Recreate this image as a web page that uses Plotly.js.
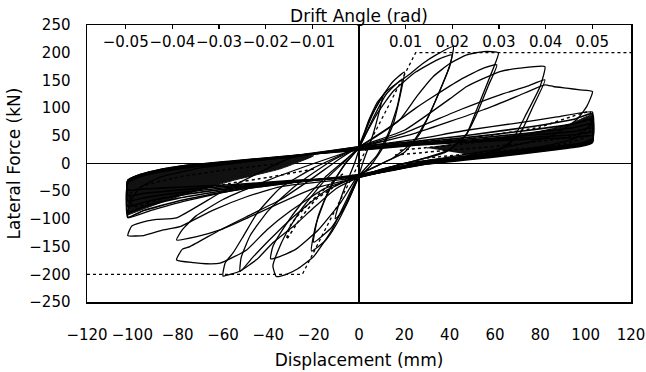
<!DOCTYPE html>
<html>
<head>
<meta charset="utf-8">
<script src="https://cdn.plot.ly/plotly-3.0.1.min.js"></script>
<style>html,body{margin:0;padding:0;background:#fff;}#chart{width:646px;height:372px;}</style>
</head>
<body>
<div id="chart"></div>
<script>
// ---- Data (displacement mm, lateral force kN) ----
var c10x = [0, 4, 8, 10.5, 9, 6, 2, 0, -4, -8, -10.5, -9, -6, -2, 0];
var c10y = [25, 75, 110, 122, 95, 50, 5, -20, -60, -90, -100, -75, -40, 0, 25];

var c20ax = [0, 5, 10, 15, 20, 18, 15, 10, 5, 0, -5, -10, -15, -21, -19, -15, -10, -5, 0];
var c20ay = [30, 80, 120, 148, 165, 120, 70, 25, -5, -25, -70, -110, -140, -158, -110, -65, -25, 5, 30];
var c20bx = [0, 6, 12, 19, 17, 13, 8, 0, -6, -12, -20, -18, -13, -6, 0];
var c20by = [28, 80, 125, 152, 105, 55, 15, -22, -75, -115, -142, -95, -45, 0, 28];

var c40ax = [0, 6, 12, 22, 28, 34, 41.6, 40, 37, 32, 27, 20, 10, 0, -6, -12, -20, -27, -32, -36.5, -38, -36, -32, -25, -15, -6, 0];
var c40ay = [32, 90, 130, 160, 180, 196, 211, 175, 145, 97, 55, 20, 0, -22, -70, -120, -168, -190, -200, -204, -185, -160, -125, -80, -30, 5, 30];
var c40bx = [0, 8, 15, 25, 35, 41, 39, 35, 30, 24, 15, 5, 0, -8, -18, -28, -35, -39, -38, -33, -25, -15, -5, 0];
var c40by = [30, 90, 130, 165, 188, 196, 165, 125, 80, 40, 10, -10, -20, -70, -120, -155, -168, -172, -150, -115, -70, -25, 10, 28];

var c60ax = [0, 10, 18, 25.5, 32.8, 40.2, 47.5, 54.9, 61.5, 57.8, 51.9, 47.5, 40, 25, 10, 0, -10, -20, -28, -38, -45, -52.5, -60, -59, -55.5, -51, -45, -35, -20, -8, 0];
var c60ay = [30, 55, 79, 121, 157, 181, 196, 202, 200, 157, 97, 54, 25, 5, -10, -25, -45, -80, -110, -143, -173, -194, -203, -179, -161, -131, -90, -45, -8, 15, 30];
var c60bx = [0, 15, 25, 32.8, 44.6, 54.9, 60.8, 57, 52, 47, 38, 20, 0, -15, -30, -40, -47, -52.5, -52, -48, -40, -28, -12, 0];
var c60by = [30, 70, 100, 121, 151, 172, 178, 140, 90, 50, 20, 0, -22, -50, -100, -140, -170, -195, -170, -130, -85, -40, 5, 28];

var c80ax = [0, 20, 41.5, 47.5, 62.2, 71, 82, 79.9, 74, 66.6, 55, 30, 0, -15, -30, -40.7, -49.6, -61.3, -67.5, -73, -80.5, -78, -74.6, -61.3, -46.6, -34.9, -20, -8, 0];
var c80ay = [30, 60, 121, 139, 166, 172, 175, 139, 91, 36, 15, 0, -25, -45, -85, -120, -156, -180, -181, -179, -174, -155, -150, -120, -90, -66, -25, 10, 30];
var c80bx = [0, 20, 44.6, 62.2, 74, 82, 76.8, 71, 62, 40, 15, 0, -20, -49.6, -61.3, -71.6, -80.5, -78, -72, -60, -40, -20, 0];
var c80by = [30, 55, 97, 124, 139, 151, 103, 54, 25, 5, -10, -25, -45, -99, -120, -132, -138, -120, -95, -65, -30, 0, 28];

var c100ax = [0, 25, 54.9, 69.6, 82, 85.7, 91.6, 97.5, 103, 100.5, 96, 85, 60, 30, 0, -34.9, -49.6, -64.3, -79, -86.4, -95, -102, -100.3, -96.6, -89.3, -80.5, -60, -30, 0];
var c100ay = [30, 55, 97, 121, 142, 139, 136, 133, 130, 103, 79, 50, 25, 5, -25, -42, -60, -84, -114, -120, -130, -130, -113, -107, -101, -98, -50, 10, 30];
var c100bx = [0, 22.5, 47.5, 69.6, 87.3, 103, 102, 95, 80, 50, 20, 0, -30, -56.9, -79, -92, -102, -101, -97, -88, -70, -40, 0];
var c100by = [30, 42, 60, 73, 84, 93, 70, 45, 30, 15, 0, -22, -35, -50, -70, -85, -98, -70, -45, -25, -8, 8, 30];

// repeated, degrading cycles at about +/-100 mm (dense band)
var bandX = [0, 25, 50, 75, 95, 103, 103, 98, 85, 60, 30, 0, -30, -55, -80, -95, -102, -102, -98, -90, -75, -55, -30, 0];
var b1y = [30, 40, 52, 66, 80, 90, 45, 37, 30, 18, 5, -20, -35, -48, -68, -85, -97, -35, -26, -17, -7, 2, 12, 30];
var b2y = [28, 38, 48, 60, 72, 80, 42, 35, 28, 16, 3, -22, -34, -46, -63, -78, -88, -33, -25, -16, -6, 3, 12, 28];
var b3y = [27, 36, 45, 55, 65, 72, 40, 34, 27, 15, 2, -22, -33, -44, -58, -70, -78, -32, -24, -15, -5, 3, 13, 27];
var b4y = [26, 35, 43, 51, 58, 64, 40, 33, 26, 14, 1, -23, -33, -42, -53, -62, -68, -31, -23, -14, -4, 4, 13, 26];
var b5y = [25, 34, 41, 47, 52, 56, 39, 32, 25, 13, 0, -23, -32, -40, -48, -54, -58, -31, -22, -13, -3, 4, 14, 25];
var b6y = [24, 33, 39, 44, 47, 50, 38, 31, 24, 12, -1, -23, -31, -38, -43, -46, -48, -30, -22, -13, -3, 5, 14, 24];

// densest part of the band (outline of the solid-black region)
var corePosX = [30, 50, 62, 77, 92, 103, 103, 92, 70, 50];
var corePosY = [28, 40, 47, 56, 69, 88, 42, 33, 21, 15];
var coreNegX = [-102, -98, -90, -75, -55, -35, -20, -35, -55, -80, -95, -102];
var coreNegY = [-30, -22, -15, -6, 3, 11, 14, -10, -30, -60, -82, -93];

// dotted (later) cycles
var d1x = [10.7, 35.7, 57.8, 79.9, 101.9, 102, 95, 70, 40, 15];
var d1y = [36, 42, 51, 66, 93, 70, 50, 35, 24, 15];
var d2x = [18, 47.5, 77, 102.7, 101, 90, 60, 30];
var d2y = [24, 36, 54, 78, 50, 35, 22, 10];
var d3x = [-20, -40, -56.9, -71.6, -86.4, -99.6, -101, -95, -80, -60, -35];
var d3y = [-10, -25, -36, -48, -63, -78, -55, -40, -25, -12, 0];
var d4x = [-5, -12, -19, -26, -32, -30, -24, -15, -6];
var d4y = [-25, -45, -65, -100, -137, -110, -80, -45, -15];

// idealised envelope (dotted)
var envX = [-120, -25, 0, 25, 120];
var envY = [-200, -200, 0, 200, 200];

// axes
var driftTicks = [-0.05, -0.04, -0.03, -0.02, -0.01, 0.01, 0.02, 0.03, 0.04, 0.05];
var driftRange = [-0.0583, 0.0583];
var dispTicks = [-120, -100, -80, -60, -40, -20, 0, 20, 40, 60, 80, 100, 120];
var forceTicks = [-250, -200, -150, -100, -50, 0, 50, 100, 150, 200, 250];

var solid = [[c10x,c10y],[c20ax,c20ay],[c20bx,c20by],[c40ax,c40ay],[c40bx,c40by],
             [c60ax,c60ay],[c60bx,c60by],[c80ax,c80ay],[c80bx,c80by],[c100ax,c100ay],[c100bx,c100by]];
var band = [b1y, b2y, b3y, b4y, b5y, b6y];
var dotted = [[d1x,d1y],[d2x,d2y],[d3x,d3y],[d4x,d4y]];

var traces = [];
[[corePosX,corePosY],[coreNegX,coreNegY]].forEach(function(p){
  traces.push({x:p[0], y:p[1], mode:'lines', fill:'toself', fillcolor:'#111', line:{color:'#111', width:1, shape:'spline', smoothing:0.4}, hoverinfo:'skip', showlegend:false});
});
solid.forEach(function(p){
  traces.push({x:p[0], y:p[1], mode:'lines', line:{color:'#000', width:1.3, shape:'spline', smoothing:0.45}, hoverinfo:'skip', showlegend:false});
});
band.forEach(function(by){
  traces.push({x:bandX, y:by, mode:'lines', line:{color:'#000', width:1.6, shape:'spline', smoothing:0.45}, hoverinfo:'skip', showlegend:false});
});
dotted.forEach(function(p){
  traces.push({x:p[0], y:p[1], mode:'lines', line:{color:'#000', width:1.5, dash:'dot', shape:'spline', smoothing:0.45}, hoverinfo:'skip', showlegend:false});
});
traces.push({x:envX, y:envY, mode:'lines', line:{color:'#000', width:1.3, dash:'dot'}, hoverinfo:'skip', showlegend:false});
traces.push({x:driftTicks, y:driftTicks.map(function(){return 0;}), xaxis:'x2', mode:'markers', marker:{opacity:0}, hoverinfo:'skip', showlegend:false});

var F = 'DejaVu Sans, sans-serif';
var layout = {
  width:646, height:372,
  margin:{l:87, r:15, t:25, b:70},
  paper_bgcolor:'#fff', plot_bgcolor:'#fff',
  font:{family:F, size:15, color:'#000'},
  showlegend:false,
  xaxis:{range:[-120,120], tickvals:dispTicks, ticks:'', showgrid:false,
         showline:true, mirror:true, linecolor:'#000', linewidth:1.5,
         zeroline:true, zerolinecolor:'#000', zerolinewidth:1.5,
         tickfont:{family:F, size:15}, ticklabelstandoff:18,
         title:{text:'Displacement (mm)', font:{family:F, size:17}, standoff:11}},
  yaxis:{range:[-250,250], tickvals:forceTicks, ticks:'', showgrid:false,
         showline:true, mirror:true, linecolor:'#000', linewidth:1.5,
         zeroline:true, zerolinecolor:'#000', zerolinewidth:1.5,
         tickfont:{family:F, size:15}, ticklabelstandoff:12,
         title:{text:'Lateral Force (kN)', font:{family:F, size:17}, standoff:4}},
  xaxis2:{overlaying:'x', anchor:'y', side:'top', range:driftRange, tickvals:driftTicks,
          ticks:'inside', ticklen:4, tickwidth:1.3, tickcolor:'#000', tickangle:0,
          ticklabelposition:'outside', ticklabelstandoff:-26, showgrid:false, zeroline:false, showline:false,
          tickfont:{family:F, size:15},
          title:{text:'Drift Angle (rad)', font:{family:F, size:17}, standoff:6}}
};
Plotly.newPlot('chart', traces, layout, {staticPlot:true, displayModeBar:false});
</script>
</body>
</html>
